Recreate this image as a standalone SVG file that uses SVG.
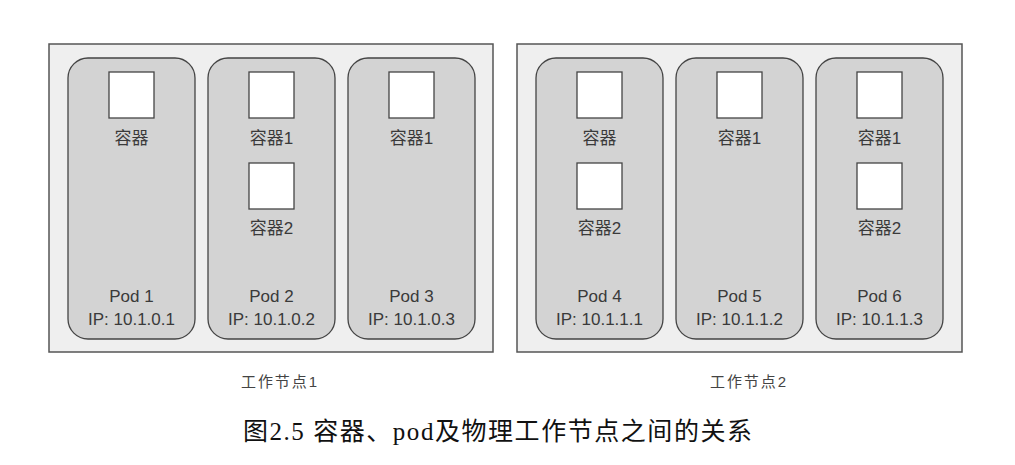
<svg xmlns="http://www.w3.org/2000/svg" width="1015" height="465" viewBox="0 0 1015 465">
  <style>
    .node-box { fill: #efefef; stroke: #555; stroke-width: 1.5; }
    .pod { fill: #d3d3d3; stroke: #444; stroke-width: 1.3; }
    .ctr { fill: #ffffff; stroke: #444; stroke-width: 1.3; }
    .cjk { font-family: "Liberation Sans", "Noto Sans CJK SC", sans-serif; font-size: 17px; fill: #3a3a3a; text-anchor: middle; }
    .pod-text { font-family: "Liberation Sans", Arial, sans-serif; font-size: 17px; fill: #3a3a3a; text-anchor: middle; }
    .node-label { font-family: "Liberation Sans", "Noto Sans CJK SC", sans-serif; font-size: 15px; fill: #444; }
    .caption { font-family: "Liberation Serif", "Noto Sans CJK SC", serif; font-size: 25px; fill: #111; }
  </style>

  <!-- Worker node 1 -->
  <g id="worker-node-1">
    <rect class="node-box" x="49" y="44" width="444" height="308"/>
    <text class="node-label" x="241" y="387" textLength="76" lengthAdjust="spacing">工作节点1</text>
  </g>

  <!-- Worker node 2 -->
  <g id="worker-node-2">
    <rect class="node-box" x="517" y="44" width="445" height="308"/>
    <text class="node-label" x="710" y="387" textLength="76" lengthAdjust="spacing">工作节点2</text>
  </g>

  <!-- Pods on node 1 -->
  <g id="pod-1">
    <rect class="pod" x="68" y="58" width="127" height="281" rx="20"/>
    <rect class="ctr" x="109" y="72" width="45" height="46"/>
    <text class="cjk" x="131.5" y="144">容器</text>
    <text class="pod-text" x="131.5" y="302">Pod 1</text>
    <text class="pod-text" x="131.5" y="325">IP: 10.1.0.1</text>
  </g>
  <g id="pod-2">
    <rect class="pod" x="208" y="58" width="127" height="281" rx="20"/>
    <rect class="ctr" x="249" y="72" width="45" height="46"/>
    <text class="cjk" x="271.5" y="144">容器1</text>
    <rect class="ctr" x="249" y="163" width="45" height="46"/>
    <text class="cjk" x="271.5" y="234">容器2</text>
    <text class="pod-text" x="271.5" y="302">Pod 2</text>
    <text class="pod-text" x="271.5" y="325">IP: 10.1.0.2</text>
  </g>
  <g id="pod-3">
    <rect class="pod" x="348" y="58" width="127" height="281" rx="20"/>
    <rect class="ctr" x="389" y="72" width="45" height="46"/>
    <text class="cjk" x="411.5" y="144">容器1</text>
    <text class="pod-text" x="411.5" y="302">Pod 3</text>
    <text class="pod-text" x="411.5" y="325">IP: 10.1.0.3</text>
  </g>

  <!-- Pods on node 2 -->
  <g id="pod-4">
    <rect class="pod" x="536" y="58" width="127" height="281" rx="20"/>
    <rect class="ctr" x="577" y="72" width="45" height="46"/>
    <text class="cjk" x="599.5" y="144">容器</text>
    <rect class="ctr" x="577" y="163" width="45" height="46"/>
    <text class="cjk" x="599.5" y="234">容器2</text>
    <text class="pod-text" x="599.5" y="302">Pod 4</text>
    <text class="pod-text" x="599.5" y="325">IP: 10.1.1.1</text>
  </g>
  <g id="pod-5">
    <rect class="pod" x="676" y="58" width="127" height="281" rx="20"/>
    <rect class="ctr" x="717" y="72" width="45" height="46"/>
    <text class="cjk" x="739.5" y="144">容器1</text>
    <text class="pod-text" x="739.5" y="302">Pod 5</text>
    <text class="pod-text" x="739.5" y="325">IP: 10.1.1.2</text>
  </g>
  <g id="pod-6">
    <rect class="pod" x="816" y="58" width="127" height="281" rx="20"/>
    <rect class="ctr" x="857" y="72" width="45" height="46"/>
    <text class="cjk" x="879.5" y="144">容器1</text>
    <rect class="ctr" x="857" y="163" width="45" height="46"/>
    <text class="cjk" x="879.5" y="234">容器2</text>
    <text class="pod-text" x="879.5" y="302">Pod 6</text>
    <text class="pod-text" x="879.5" y="325">IP: 10.1.1.3</text>
  </g>

  <!-- No connectors in this figure -->
  <g id="connectors"/>

  <text class="caption" x="243" y="440" textLength="509" lengthAdjust="spacing">图2.5 容器、pod及物理工作节点之间的关系</text>
</svg>
